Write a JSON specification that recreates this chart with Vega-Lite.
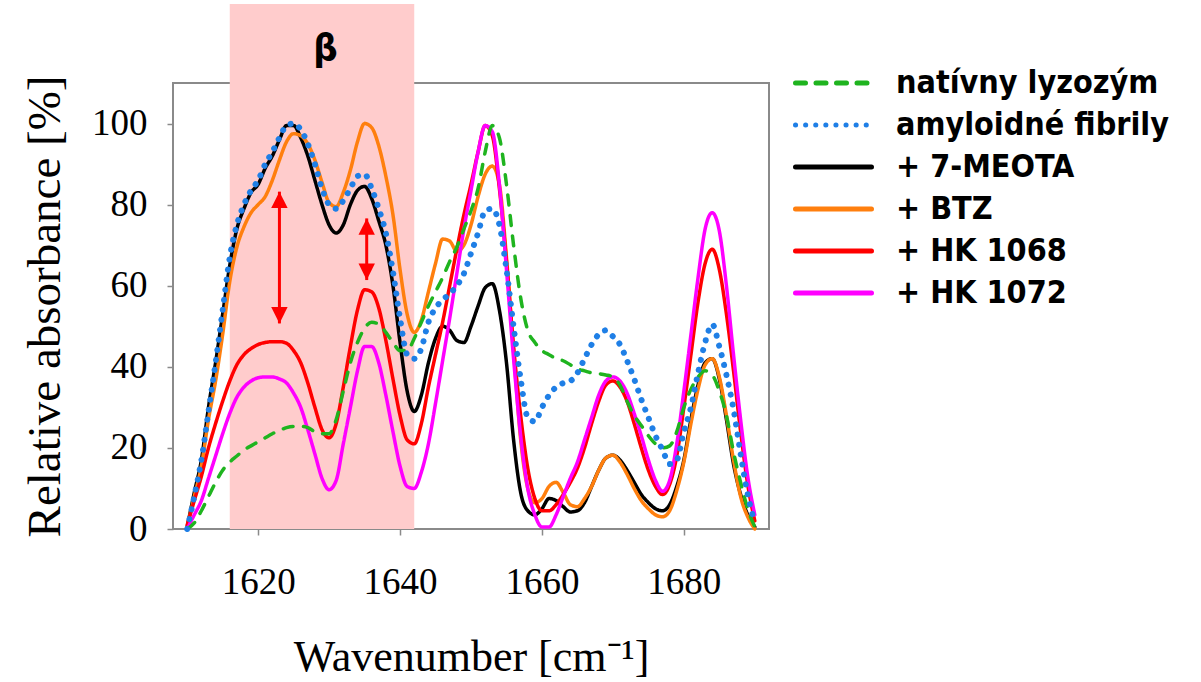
{
  "$schema": "https://vega.github.io/schema/vega-lite/v6.json",
  "width": 596,
  "height": 446,
  "autosize": {"type": "none"},
  "padding": {"left": 173, "top": 83, "right": 432, "bottom": 153},
  "background": "white",
  "config": {
    "font": "Liberation Serif",
    "view": {"stroke": "#8a8a8a", "strokeWidth": 2},
    "axis": {
      "domain": false, "grid": false, "tickColor": "#8a8a8a", "tickSize": 6, "tickWidth": 1.5,
      "labelFont": "Liberation Serif", "labelFontSize": 37, "labelColor": "#000000",
      "titleFont": "Liberation Serif", "titleFontWeight": "normal", "titleColor": "#000000"
    }
  },
  "layer": [
    {
      "data": {"values": [{"a": 1616, "b": 1642, "lo": 0, "hi": 129.5}]},
      "mark": {"type": "rect", "color": "#ffcccc"},
      "encoding": {
        "x": {"field": "a", "type": "quantitative", "scale": {"domain": [1608, 1692], "nice": false, "zero": false},
              "axis": {"values": [1620, 1640, 1660, 1680], "format": "d", "labelPadding": 29, "labelFont": "Liberation Serif", "labelFontSize": 37, "titleFont": "Liberation Serif", "titleFontSize": 44, "title": "Wavenumber [cm⁻¹]", "titlePadding": 35}},
        "x2": {"field": "b"},
        "y": {"field": "lo", "type": "quantitative", "scale": {"domain": [0, 110], "nice": false},
              "axis": {"values": [0, 20, 40, 60, 80, 100], "labelPadding": 20, "labelFont": "Liberation Serif", "labelFontSize": 37, "titleFont": "Liberation Serif", "titleFontSize": 47, "title": "Relative absorbance [%]", "titlePadding": 22}},
        "y2": {"field": "hi"}
      }
    },
    {
      "data": {"values": [{"x": 1629.5, "y": 118.5, "t": "β"}]},
      "mark": {"type": "text", "font": "DejaVu Sans Condensed", "fontSize": 38, "fontWeight": "bold", "color": "#000000", "baseline": "middle"},
      "encoding": {
        "x": {"field": "x", "type": "quantitative", "scale": {"domain": [1608, 1692], "nice": false, "zero": false}},
        "y": {"field": "y", "type": "quantitative", "scale": {"domain": [0, 110], "nice": false}},
        "text": {"field": "t"}
      }
    },
    {
      "data": {"values": [
        {"w":1610,"meota":0.5,"btz":0.5,"hk68":1,"hk72":0,"nat":0,"amy":0},
        {"w":1611,"meota":9,"btz":8,"hk68":7,"hk72":3.5,"nat":1.5,"amy":8},
        {"w":1612,"meota":17,"btz":15.5,"hk68":13,"hk72":7,"nat":4.5,"amy":17},
        {"w":1613,"meota":30,"btz":27,"hk68":20,"hk72":12.5,"nat":8,"amy":29},
        {"w":1614,"meota":41,"btz":36.5,"hk68":26,"hk72":18,"nat":11.5,"amy":41},
        {"w":1615,"meota":53,"btz":48,"hk68":31.5,"hk72":23.5,"nat":14.5,"amy":54},
        {"w":1616,"meota":65,"btz":61,"hk68":36.5,"hk72":28.5,"nat":16.5,"amy":67},
        {"w":1617,"meota":74,"btz":69.5,"hk68":40.5,"hk72":32.5,"nat":18,"amy":75},
        {"w":1618,"meota":79,"btz":74.5,"hk68":43,"hk72":35,"nat":19.5,"amy":80},
        {"w":1619,"meota":83,"btz":78,"hk68":44.5,"hk72":36.5,"nat":20.5,"amy":83.5},
        {"w":1620,"meota":85,"btz":80,"hk68":45.5,"hk72":37.3,"nat":21.5,"amy":86},
        {"w":1621,"meota":89,"btz":82,"hk68":46,"hk72":37.5,"nat":22.5,"amy":90},
        {"w":1622,"meota":92,"btz":86,"hk68":46.2,"hk72":37.5,"nat":23.5,"amy":93},
        {"w":1623,"meota":96,"btz":91,"hk68":46.2,"hk72":37,"nat":24.3,"amy":96.5},
        {"w":1624,"meota":99.5,"btz":95.5,"hk68":45.8,"hk72":36,"nat":25,"amy":99.5},
        {"w":1625,"meota":99.5,"btz":97.5,"hk68":44,"hk72":33.5,"nat":25.3,"amy":100},
        {"w":1626,"meota":96.5,"btz":97,"hk68":41,"hk72":30,"nat":25.3,"amy":98.5},
        {"w":1627,"meota":92,"btz":95,"hk68":36,"hk72":24.5,"nat":25,"amy":95},
        {"w":1628,"meota":86,"btz":91,"hk68":30,"hk72":18.5,"nat":24,"amy":90},
        {"w":1629,"meota":80,"btz":85.5,"hk68":24.5,"hk72":12.5,"nat":23.5,"amy":84},
        {"w":1630,"meota":75,"btz":80.5,"hk68":22.5,"hk72":9.7,"nat":23.5,"amy":80},
        {"w":1631,"meota":73,"btz":79.5,"hk68":26,"hk72":12,"nat":27,"amy":79},
        {"w":1632,"meota":75,"btz":83,"hk68":35,"hk72":21,"nat":34,"amy":81},
        {"w":1633,"meota":80,"btz":88.5,"hk68":45,"hk72":30,"nat":41,"amy":84},
        {"w":1634,"meota":83.5,"btz":95.5,"hk68":54,"hk72":39,"nat":46,"amy":87},
        {"w":1635,"meota":84.5,"btz":100,"hk68":59,"hk72":45,"nat":49.5,"amy":87.5},
        {"w":1636,"meota":81.5,"btz":99,"hk68":58.5,"hk72":45,"nat":51,"amy":84},
        {"w":1637,"meota":76,"btz":94.5,"hk68":54.5,"hk72":41,"nat":50.5,"amy":79},
        {"w":1638,"meota":70,"btz":87,"hk68":46.5,"hk72":33,"nat":48.5,"amy":73},
        {"w":1639,"meota":60,"btz":77.5,"hk68":37,"hk72":24,"nat":46,"amy":63.5},
        {"w":1640,"meota":46,"btz":64,"hk68":28,"hk72":15.5,"nat":44,"amy":52},
        {"w":1641,"meota":34,"btz":53,"hk68":22,"hk72":10.5,"nat":44,"amy":43},
        {"w":1642,"meota":29,"btz":48.5,"hk68":21,"hk72":10,"nat":47,"amy":42},
        {"w":1643,"meota":33,"btz":51.5,"hk68":26,"hk72":14,"nat":51,"amy":44.5},
        {"w":1644,"meota":41,"btz":58.5,"hk68":35,"hk72":21,"nat":55,"amy":51},
        {"w":1645,"meota":47,"btz":65.5,"hk68":43,"hk72":31,"nat":58.5,"amy":54.5},
        {"w":1646,"meota":50,"btz":71.5,"hk68":51,"hk72":41.5,"nat":62,"amy":56.5},
        {"w":1647,"meota":49,"btz":71,"hk68":60,"hk72":52,"nat":66,"amy":58},
        {"w":1648,"meota":46.5,"btz":68.5,"hk68":69,"hk72":63,"nat":69.5,"amy":60},
        {"w":1649,"meota":46,"btz":70,"hk68":77.5,"hk72":74,"nat":74,"amy":63},
        {"w":1650,"meota":50,"btz":75,"hk68":85,"hk72":83.5,"nat":78.5,"amy":68},
        {"w":1651,"meota":55,"btz":82,"hk68":93,"hk72":93,"nat":84,"amy":73},
        {"w":1652,"meota":59.5,"btz":87.5,"hk68":99.5,"hk72":99.5,"nat":93,"amy":78.5},
        {"w":1653,"meota":60.5,"btz":89.5,"hk68":97,"hk72":98,"nat":99.5,"amy":79},
        {"w":1654,"meota":54,"btz":85,"hk68":84,"hk72":85,"nat":96.5,"amy":75},
        {"w":1655,"meota":41,"btz":67,"hk68":66,"hk72":64,"nat":85,"amy":64},
        {"w":1656,"meota":22,"btz":44,"hk68":45,"hk72":42,"nat":70,"amy":50},
        {"w":1657,"meota":9,"btz":22,"hk68":28,"hk72":23,"nat":57,"amy":37},
        {"w":1658,"meota":4.5,"btz":10,"hk68":15,"hk72":10,"nat":49,"amy":27.5},
        {"w":1659,"meota":3.5,"btz":6.5,"hk68":7.5,"hk72":3.5,"nat":46,"amy":26.5},
        {"w":1660,"meota":5,"btz":7.5,"hk68":4.5,"hk72":0.5,"nat":44,"amy":30},
        {"w":1661,"meota":7.5,"btz":10.5,"hk68":4.5,"hk72":0.5,"nat":43,"amy":33},
        {"w":1662,"meota":7,"btz":11.5,"hk68":6,"hk72":3.5,"nat":42,"amy":35},
        {"w":1663,"meota":5.5,"btz":9,"hk68":8.5,"hk72":8,"nat":41.5,"amy":36},
        {"w":1664,"meota":4.2,"btz":6,"hk68":11.5,"hk72":12.5,"nat":40.5,"amy":36.5},
        {"w":1665,"meota":4.5,"btz":5.5,"hk68":15,"hk72":16.5,"nat":39.5,"amy":38.5},
        {"w":1666,"meota":6.5,"btz":7.5,"hk68":20,"hk72":22,"nat":39,"amy":42},
        {"w":1667,"meota":10.5,"btz":10.5,"hk68":26,"hk72":27.5,"nat":38.5,"amy":45.5},
        {"w":1668,"meota":14.5,"btz":14.5,"hk68":31.5,"hk72":33,"nat":38.3,"amy":48},
        {"w":1669,"meota":17.5,"btz":17.5,"hk68":35.5,"hk72":36.5,"nat":38,"amy":49},
        {"w":1670,"meota":18.2,"btz":18.2,"hk68":36.5,"hk72":37.5,"nat":37.5,"amy":47.5},
        {"w":1671,"meota":17,"btz":16.5,"hk68":35,"hk72":36.5,"nat":35.5,"amy":45.5},
        {"w":1672,"meota":14.5,"btz":13.5,"hk68":31.5,"hk72":33.5,"nat":31.5,"amy":41.5},
        {"w":1673,"meota":11.5,"btz":10,"hk68":26,"hk72":28.5,"nat":28,"amy":37},
        {"w":1674,"meota":8.5,"btz":7,"hk68":20,"hk72":23,"nat":25.5,"amy":32},
        {"w":1675,"meota":6.5,"btz":5,"hk68":14.5,"hk72":17,"nat":23,"amy":27.5},
        {"w":1676,"meota":5,"btz":3.5,"hk68":10.5,"hk72":12,"nat":21,"amy":23},
        {"w":1677,"meota":4.5,"btz":3,"hk68":8.5,"hk72":9.3,"nat":20,"amy":19.5},
        {"w":1678,"meota":6,"btz":4.5,"hk68":11,"hk72":12,"nat":20.5,"amy":16},
        {"w":1679,"meota":10.5,"btz":9.5,"hk68":18,"hk72":21,"nat":24,"amy":17},
        {"w":1680,"meota":17,"btz":16.5,"hk68":30,"hk72":34,"nat":30,"amy":24},
        {"w":1681,"meota":27,"btz":26,"hk68":43,"hk72":48,"nat":34.5,"amy":30},
        {"w":1682,"meota":35.5,"btz":34.5,"hk68":56,"hk72":62,"nat":37.5,"amy":38.5},
        {"w":1683,"meota":41,"btz":40.5,"hk68":65.5,"hk72":74,"nat":39,"amy":46},
        {"w":1684,"meota":42,"btz":42,"hk68":69,"hk72":78,"nat":38,"amy":50.5},
        {"w":1685,"meota":37,"btz":37.5,"hk68":64,"hk72":73.5,"nat":34,"amy":45},
        {"w":1686,"meota":27,"btz":28,"hk68":53,"hk72":60,"nat":28,"amy":38},
        {"w":1687,"meota":16,"btz":17,"hk68":39,"hk72":43,"nat":19,"amy":29.5},
        {"w":1688,"meota":8.5,"btz":8,"hk68":24,"hk72":27,"nat":11.5,"amy":18.5},
        {"w":1689,"meota":3.5,"btz":3,"hk68":11,"hk72":13,"nat":5,"amy":8.5},
        {"w":1690,"meota":0.5,"btz":0,"hk68":2,"hk72":3.5,"nat":0.5,"amy":1.5}
      ]},
      "transform": [{"fold": ["meota", "btz", "hk68", "hk72", "nat", "amy"], "as": ["s", "v"]}],
      "mark": {"type": "line", "interpolate": "monotone", "strokeCap": "round", "strokeJoin": "round"},
      "encoding": {
        "x": {"field": "w", "type": "quantitative", "scale": {"domain": [1608, 1692], "nice": false, "zero": false}},
        "y": {"field": "v", "type": "quantitative", "scale": {"domain": [0, 110], "nice": false}},
        "color": {
          "field": "s", "type": "nominal",
          "scale": {"domain": ["nat", "amy", "meota", "btz", "hk68", "hk72"], "range": ["#1fb41f", "#1f7fe6", "#000000", "#ff7f0e", "#ff0000", "#ff00ff"]},
          "legend": {
            "orient": "none", "legendX": 620, "legendY": -19, "title": null,
            "symbolType": "stroke", "symbolSize": 5776, "symbolStrokeWidth": 5,
            "clipHeight": 38,
            "labelFont": "DejaVu Sans Condensed", "labelFontSize": 32, "labelFontWeight": "bold", "labelColor": "#000000",
            "labelOffset": 22, "rowPadding": 4, "labelLimit": 400,
            "labelExpr": "{'nat':'natívny lyzozým','amy':'amyloidné fibrily','meota':'+ 7-MEOTA','btz':'+ BTZ','hk68':'+ HK 1068','hk72':'+ HK 1072'}[datum.value]",
            "encode": {"symbols": {"update": {
              "strokeCap": {"value": "round"},
              "strokeWidth": {"value": 5}
            }}}
          }
        },
        "strokeDash": {
          "field": "s", "type": "nominal",
          "scale": {"domain": ["nat", "amy", "meota", "btz", "hk68", "hk72"], "range": [[10, 10.5], [0.1, 10], [1, 0], [1, 0], [1, 0], [1, 0]]}
        },
        "strokeWidth": {"condition": {"test": "datum.s === 'amy'", "value": 6}, "value": 3.5}
      }
    },
    {
      "data": {"values": [{"x": 1623, "a": 50.7, "b": 83.2}, {"x": 1635.3, "a": 61.4, "b": 76.6}]},
      "mark": {"type": "rule", "color": "#ff0000", "strokeWidth": 3},
      "encoding": {
        "x": {"field": "x", "type": "quantitative", "scale": {"domain": [1608, 1692], "nice": false, "zero": false}},
        "y": {"field": "a", "type": "quantitative", "scale": {"domain": [0, 110], "nice": false}},
        "y2": {"field": "b"}
      }
    },
    {
      "data": {"values": [
        {"x": 1623, "y": 83.2, "d": "up"}, {"x": 1623, "y": 50.7, "d": "down"},
        {"x": 1635.3, "y": 76.6, "d": "up"}, {"x": 1635.3, "y": 61.4, "d": "down"}
      ]},
      "mark": {"type": "point", "filled": true, "color": "#ff0000", "opacity": 1, "size": 270, "strokeWidth": 0},
      "encoding": {
        "x": {"field": "x", "type": "quantitative", "scale": {"domain": [1608, 1692], "nice": false, "zero": false}},
        "y": {"field": "y", "type": "quantitative", "scale": {"domain": [0, 110], "nice": false}},
        "shape": {"field": "d", "type": "nominal", "scale": {"domain": ["up", "down"], "range": ["M0,0L-1,2L1,2Z", "M0,0L-1,-2L1,-2Z"]}, "legend": null}
      }
    }
  ]
}
